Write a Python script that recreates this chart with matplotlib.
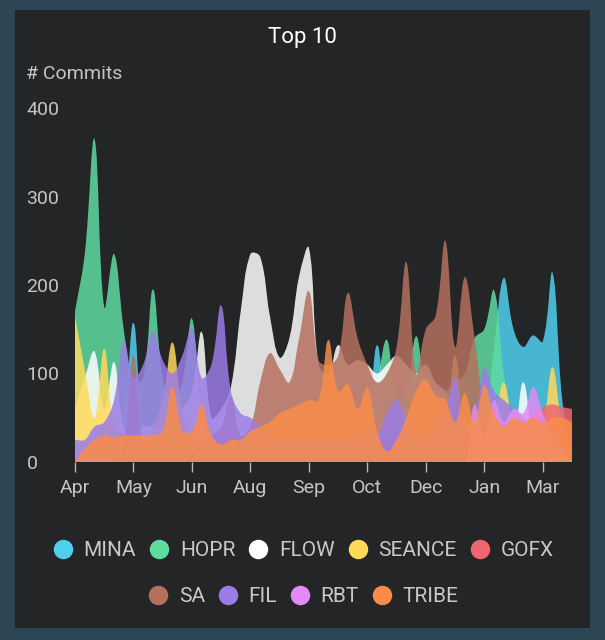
import numpy as np
import matplotlib.pyplot as plt
from matplotlib.path import Path
from matplotlib.patches import PathPatch, Rectangle
from matplotlib.lines import Line2D

plt.rcParams['font.family'] = ['Roboto', 'DejaVu Sans']

# weekly commit counts, 52 weeks starting in April
weeks = np.arange(52)
tick_weeks = [0, 6, 12, 18, 24, 30, 36, 42, 48]
tick_labels = ['Apr', 'May', 'Jun', 'Aug', 'Sep', 'Oct', 'Dec', 'Jan', 'Mar']

names = ['MINA', 'HOPR', 'FLOW', 'SEANCE', 'GOFX', 'SA', 'FIL', 'RBT', 'TRIBE']
colors = ['#4fcff0', '#5edca0', '#ffffff', '#ffd95c', '#f06670',
          '#b5705e', '#9b7ce6', '#e28af5', '#fa8c48']

mina = [0, 0, 5, 10, 40, 60, 157, 40, 30, 20, 20, 20, 15, 15, 20, 50, 70, 40, 15, 15,
        15, 15, 15, 15, 15, 15, 15, 15, 15, 15, 40, 132, 50, 20, 15, 15, 15, 15, 15, 15,
        15, 15, 40, 130, 208, 150, 130, 143, 136, 214, 70, 10]
hopr = [170, 235, 365, 175, 235, 150, 90, 95, 195, 95, 70, 90, 162, 50, 30, 25, 20, 20, 20, 20,
        20, 20, 20, 20, 20, 20, 20, 20, 20, 30, 40, 90, 138, 70, 80, 142, 90, 80, 80, 90,
        100, 140, 150, 194, 100, 40, 30, 30, 20, 20, 10, 0]
flow = [60, 95, 125, 60, 113, 40, 30, 40, 40, 40, 50, 60, 80, 147, 50, 60, 85, 170, 235, 232,
        165, 118, 140, 210, 242, 110, 100, 132, 110, 115, 110, 100, 110, 120, 110, 100, 110, 90, 80, 60,
        50, 30, 20, 20, 20, 30, 90, 30, 10, 5, 0, 0]
seance = [165, 105, 50, 128, 40, 30, 20, 20, 40, 70, 135, 60, 30, 20, 15, 10, 10, 10, 10, 10,
          10, 10, 10, 10, 10, 10, 10, 10, 10, 10, 10, 10, 10, 10, 10, 10, 10, 20, 40, 120,
          40, 20, 30, 50, 90, 40, 20, 20, 40, 107, 40, 10]
gofx = [0, 0, 0, 0, 0, 5, 5, 5, 5, 10, 10, 10, 10, 10, 10, 10, 10, 10, 10, 10,
        15, 15, 15, 20, 20, 20, 20, 20, 20, 20, 20, 20, 20, 20, 20, 20, 20, 20, 20, 20,
        20, 20, 20, 20, 20, 30, 40, 55, 62, 65, 62, 60]
sa = [0, 0, 0, 0, 0, 20, 120, 20, 10, 10, 10, 10, 10, 20, 30, 40, 75, 30, 40, 90,
      123, 105, 90, 140, 193, 115, 110, 120, 191, 140, 110, 90, 100, 130, 226, 100, 150, 165, 250, 130,
      209, 140, 60, 30, 20, 10, 5, 0, 0, 0, 0, 0]
fil = [25, 25, 40, 45, 70, 138, 95, 110, 147, 115, 100, 120, 151, 95, 110, 177, 80, 55, 50, 40,
       30, 25, 25, 25, 25, 25, 25, 25, 25, 30, 40, 30, 55, 70, 50, 30, 30, 50, 60, 96,
       40, 50, 107, 80, 70, 60, 50, 40, 50, 35, 20, 5]
rbt = [0] * 41 + [65, 30, 70, 45, 60, 55, 85, 55, 30, 15, 0]
tribe = [0, 15, 25, 30, 28, 30, 30, 30, 30, 35, 85, 35, 35, 65, 30, 20, 25, 25, 35, 40,
         45, 55, 60, 65, 70, 70, 138, 80, 88, 60, 85, 35, 12, 25, 50, 80, 93, 75, 70, 45,
         78, 45, 87, 55, 40, 50, 45, 50, 45, 50, 50, 45]

series = [mina, hopr, flow, seance, gofx, sa, fil, rbt, tribe]

W, H = 605, 640
X0, X1, Y0, Y1 = 75, 572, 462, 108
YMAX = 400


def area_path(xs, ys, sx, sy, t=0.4):
    # bezier control points the way chart.js builds its smoothed lines
    xs = np.asarray(xs, float)
    ys = np.asarray(ys, float)
    px, py = xs * sx, ys * sy
    n = len(xs)
    cprev = np.zeros((n, 2))
    cnext = np.zeros((n, 2))
    for i in range(n):
        a, b = max(i - 1, 0), min(i + 1, n - 1)
        d01 = np.hypot(px[i] - px[a], py[i] - py[a])
        d12 = np.hypot(px[b] - px[i], py[b] - py[i])
        tot = d01 + d12
        s01 = d01 / tot if tot else 0
        s12 = d12 / tot if tot else 0
        dx, dy = px[b] - px[a], py[b] - py[a]
        cprev[i] = (px[i] - t * s01 * dx, py[i] - t * s01 * dy)
        cnext[i] = (px[i] + t * s12 * dx, py[i] + t * s12 * dy)
    cprev /= (sx, sy)
    cnext /= (sx, sy)
    cprev[:, 1] = np.clip(cprev[:, 1], 0, YMAX)
    cnext[:, 1] = np.clip(cnext[:, 1], 0, YMAX)
    verts = [(xs[0], 0), (xs[0], ys[0])]
    codes = [Path.MOVETO, Path.LINETO]
    for i in range(n - 1):
        verts += [tuple(cnext[i]), tuple(cprev[i + 1]), (xs[i + 1], ys[i + 1])]
        codes += [Path.CURVE4] * 3
    verts += [(xs[-1], 0), (xs[0], 0)]
    codes += [Path.LINETO, Path.CLOSEPOLY]
    return Path(verts, codes)


fig = plt.figure(figsize=(W / 100, H / 100), dpi=100)
fig.patch.set_facecolor('#2d4656')
fig.patches.append(Rectangle((15 / W, 1 - 628 / H), 575 / W, 618 / H,
                             transform=fig.transFigure, facecolor='#242527',
                             edgecolor='none', zorder=-5))

ax = fig.add_axes([X0 / W, 1 - Y0 / H, (X1 - X0) / W, (Y0 - Y1) / H])
ax.set_facecolor('none')
ax.set_xlim(0, 51)
ax.set_ylim(0, YMAX)
sx = (X1 - X0) / 51
sy = (Y0 - Y1) / YMAX

for k, (vals, col) in enumerate(zip(series, colors)):
    p = area_path(weeks, vals, sx, sy)
    ax.add_patch(PathPatch(p, facecolor=col, alpha=0.85, edgecolor='none', zorder=2 + k))

for s in ax.spines.values():
    s.set_visible(False)

ax.set_xticks(tick_weeks)
ax.set_xticklabels(tick_labels)
ax.tick_params(axis='x', length=7, width=1, color='#b8b8b8', pad=5,
               labelsize=14, labelcolor='#c4c4c4')
ax.set_yticks([0, 100, 200, 300, 400])
ax.tick_params(axis='y', length=0, pad=35, labelsize=14, labelcolor='#c4c4c4')
for lbl in ax.get_yticklabels():
    lbl.set_horizontalalignment('left')

fig.text(302 / W, 1 - 37 / H, 'Top 10', ha='center', va='center', fontsize=16, color='white')
fig.text(26 / W, 1 - 74 / H, '# Commits', ha='left', va='center', fontsize=14, color='#c4c4c4')

handles = [Line2D([], [], marker='o', linestyle='none', markersize=13,
                  markerfacecolor=c, markeredgecolor=c) for c in colors]
for rows, yc in [(slice(0, 5), 551), (slice(5, 9), 597)]:
    fig.legend(handles[rows], names[rows], loc='center', bbox_to_anchor=(303 / W, 1 - yc / H),
               ncol=5, frameon=False, fontsize=15, labelcolor='#c8c8c8',
               handlelength=1.0, handletextpad=0.5, columnspacing=0.6)

fig.savefig('out.png', dpi=100, facecolor=fig.get_facecolor())
